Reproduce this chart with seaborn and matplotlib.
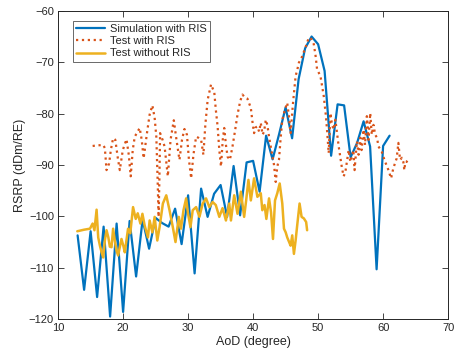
import pandas as pd
import matplotlib
matplotlib.use("Agg")
import matplotlib.pyplot as plt
import seaborn as sns

# Simulation with RIS (1 degree steps)
sim_aod = list(range(13, 62))
sim_rsrp = [-103.7, -114.3, -102.9, -115.7, -102.0, -119.5, -101.4, -118.6, -100.9, -111.7,
            -100.6, -106.3, -100.3, -101.3, -102.0, -98.5, -105.4, -95.9, -111.1, -94.6,
            -100.1, -95.6, -93.9, -100.1, -90.2, -99.8, -89.5, -89.2, -95.2, -84.3,
            -88.9, -84.0, -78.8, -84.8, -73.3, -67.3, -65.0, -66.5, -71.7, -88.2,
            -78.2, -78.4, -88.5, -85.7, -81.5, -86.4, -110.3, -86.3, -84.3]

# Test with RIS
ris_aod = [15.31, 15.97, 16.93, 17.19, 17.45, 17.85, 18.11, 18.46, 18.80, 19.18,
           19.49, 19.95, 20.52, 20.87, 21.17, 21.48, 21.79, 22.55, 22.86, 23.16,
           23.67, 24.08, 24.50, 24.85, 25.11, 25.31, 25.46, 25.58, 25.69, 26.07,
           26.38, 26.68, 26.88, 27.30, 27.80, 28.21, 28.67, 29.06, 29.44, 29.82,
           30.13, 30.47, 30.82, 31.23, 31.58, 32.00, 32.35, 32.65, 33.01, 33.53,
           34.03, 34.26, 34.54, 34.80, 35.06, 35.33, 35.56, 35.82, 36.07, 36.43,
           36.83, 37.25, 37.60, 38.01, 38.36, 38.78, 39.13, 39.65, 39.89, 40.15,
           40.38, 40.66, 40.92, 41.18, 41.46, 41.69, 41.95, 42.19, 42.45, 42.71,
           42.99, 43.22, 43.48, 43.72, 43.98, 44.24, 44.49, 44.90, 45.25, 45.51,
           45.77, 46.12, 46.54, 46.81, 47.04, 47.50, 48.07, 48.57, 48.96, 49.34,
           49.64, 49.84, 50.36, 50.87, 51.18, 51.37, 51.63, 51.90, 52.14, 52.40,
           52.66, 52.94, 53.17, 53.67, 53.93, 54.19, 54.47, 54.70, 54.96, 55.20,
           55.42, 55.61, 55.97, 56.23, 56.49, 56.69, 57.00, 57.22, 57.50, 57.76,
           58.02, 58.26, 58.52, 58.78, 59.06, 59.29, 59.79, 60.31, 60.59, 60.82,
           61.23, 61.58, 62.09, 62.35, 62.61, 62.89, 63.11, 63.27, 63.42, 63.62,
           63.80]
ris_rsrp = [-86.3, -86.2, -86.1, -86.7, -91.0, -89.7, -87.1, -84.8, -85.1, -88.6,
            -91.0, -87.1, -85.0, -88.0, -92.2, -87.1, -84.5, -82.8, -85.1, -88.7,
            -83.8, -80.2, -78.4, -80.8, -84.5, -92.9, -100.1, -92.9, -83.8, -85.1,
            -86.4, -90.0, -92.2, -85.1, -81.3, -85.1, -89.0, -85.1, -83.0, -84.1,
            -89.0, -92.6, -88.0, -84.5, -84.7, -85.1, -88.0, -82.2, -77.3, -74.3,
            -75.9, -79.2, -82.5, -87.1, -90.3, -85.1, -82.8, -86.1, -88.4, -89.0,
            -86.4, -83.1, -80.2, -77.6, -76.3, -76.9, -77.1, -78.9, -81.5, -83.8,
            -82.7, -82.5, -83.5, -81.8, -84.1, -83.5, -81.2, -82.2, -84.5, -86.4,
            -88.4, -90.0, -93.3, -90.3, -89.0, -84.7, -81.2, -79.2, -77.9, -80.5,
            -83.8, -78.2, -72.7, -71.4, -70.1, -69.0, -67.1, -65.2, -65.5, -66.5,
            -69.0, -71.4, -72.7, -76.6, -80.2, -83.1, -87.7, -79.9, -82.2, -83.1,
            -81.2, -84.1, -86.4, -90.6, -92.2, -91.4, -89.0, -87.1, -89.4, -88.4,
            -87.1, -91.0, -85.4, -88.0, -84.7, -87.1, -83.1, -86.1, -80.5, -85.1,
            -79.9, -84.1, -82.2, -84.1, -84.7, -86.4, -87.4, -89.4, -90.2, -91.0,
            -92.6, -90.6, -88.7, -85.7, -89.0, -88.6, -89.4, -91.0, -89.4, -89.4,
            -89.0]

# Test without RIS
nor_aod = [12.95, 13.98, 14.90, 15.31, 15.59, 15.92, 16.17, 16.43, 16.69, 16.93,
           17.19, 17.45, 17.73, 17.96, 18.22, 18.46, 18.72, 18.99, 19.23, 19.75,
           20.03, 20.26, 20.76, 21.10, 21.53, 21.94, 22.25, 22.66, 22.97, 23.32,
           23.82, 24.08, 24.50, 24.85, 25.26, 25.61, 26.12, 26.64, 27.14, 27.65,
           28.06, 28.57, 28.90, 29.29, 29.70, 29.98, 30.36, 30.71, 31.23, 31.74,
           32.24, 32.76, 33.27, 33.77, 34.26, 34.80, 35.30, 35.82, 36.33, 36.59,
           37.09, 37.60, 38.12, 38.62, 38.93, 39.28, 39.65, 40.15, 40.66, 41.18,
           41.42, 41.76, 42.04, 42.45, 42.76, 43.06, 43.37, 43.72, 44.09, 44.49,
           44.75, 45.01, 45.25, 45.51, 45.77, 46.02, 46.28, 46.54, 46.78, 47.15,
           47.46, 47.81, 48.16, 48.31]
nor_rsrp = [-102.9, -102.6, -102.4, -101.4, -102.7, -98.7, -104.1, -105.7, -107.0, -108.0,
            -104.7, -102.7, -104.1, -105.9, -106.0, -102.4, -104.7, -106.7, -107.6, -104.4,
            -105.7, -107.0, -102.4, -103.3, -98.2, -100.5, -99.4, -101.4, -99.5, -101.8,
            -104.1, -100.8, -103.1, -100.1, -104.7, -102.1, -97.5, -95.9, -98.8, -102.1,
            -105.0, -100.1, -102.4, -98.8, -96.5, -99.4, -102.1, -98.8, -98.2, -100.1,
            -97.5, -96.5, -98.2, -97.2, -97.8, -100.1, -98.4, -100.8, -97.5, -100.8,
            -95.9, -99.5, -95.2, -100.1, -96.9, -92.9, -96.9, -92.6, -96.2, -95.5,
            -98.8, -97.8, -100.5, -96.5, -99.2, -104.4, -96.9, -95.5, -93.6, -97.5,
            -102.4, -103.1, -104.1, -104.9, -105.7, -103.7, -107.3, -104.7, -101.8, -97.5,
            -100.1, -100.4, -101.1, -102.7]

sns.set_style("ticks")
plt.rcParams["font.family"] = ["Liberation Sans", "DejaVu Sans"]

fig = plt.figure(figsize=(4.54, 3.61), dpi=100)
ax = fig.add_axes([0.128, 0.116, 0.859, 0.854])

sns.lineplot(x=sim_aod, y=sim_rsrp, ax=ax, color="#0072BD", linewidth=1.6,
             label="Simulation with RIS", estimator=None, sort=False)
sns.lineplot(x=ris_aod, y=ris_rsrp, ax=ax, color="#D95319", linewidth=1.6,
             linestyle=":", label="Test with RIS", estimator=None, sort=False)
sns.lineplot(x=nor_aod, y=nor_rsrp, ax=ax, color="#EDB120", linewidth=1.8,
             label="Test without RIS", estimator=None, sort=False)

ax.set_xlim(10, 70)
ax.set_ylim(-120, -60)
ax.set_xticks(range(10, 71, 10))
ax.set_yticks(range(-120, -59, 10))
ax.set_xlabel("AoD (degree)", fontsize=9, color="#262626", labelpad=2)
ax.set_ylabel("RSRP (dDm/RE)", fontsize=9, color="#262626", labelpad=2)
ax.tick_params(direction="in", top=True, right=True, length=4, width=0.6,
               labelsize=8, colors="#262626", pad=3)
for sp in ax.spines.values():
    sp.set_linewidth(0.7)
    sp.set_color("#262626")

leg = ax.legend(loc="upper left", bbox_to_anchor=(0.0385, 0.968), borderaxespad=0,
                fontsize=8, frameon=True, fancybox=False, handlelength=2.6,
                handletextpad=0.4, borderpad=0.3, labelspacing=0.2)
leg.get_frame().set_edgecolor("#262626")
leg.get_frame().set_linewidth(0.6)

fig.savefig("out.png", dpi=100)
